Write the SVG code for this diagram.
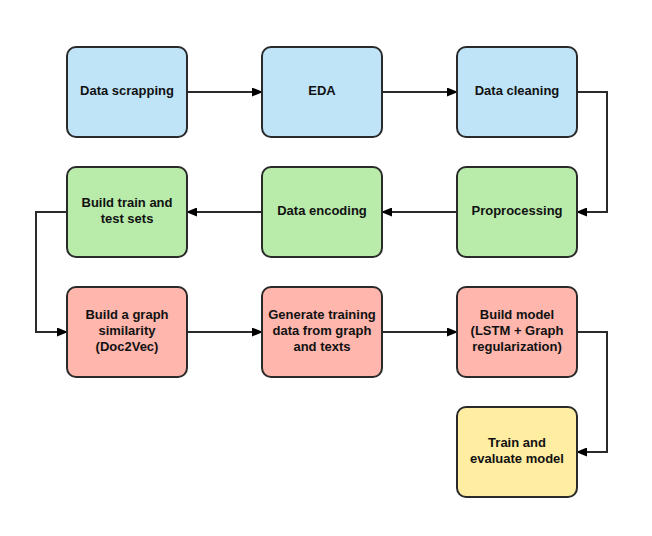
<svg xmlns="http://www.w3.org/2000/svg" width="652" height="536" viewBox="0 0 652 536">
<defs>
<marker id="arr" markerWidth="11" markerHeight="9" refX="10" refY="4.5" orient="auto" markerUnits="userSpaceOnUse">
<path d="M0,0 L11,4.5 L0,9 Z" fill="#000"/>
</marker>
<style>
.n rect{stroke:#2a2a2a;stroke-width:2}
.b rect{fill:#bfe4f8}
.g rect{fill:#b9ebaa}
.r rect{fill:#feb6ad}
.y rect{fill:#ffeda2}
text{font-family:"Liberation Sans",Arial,sans-serif;font-weight:bold;font-size:13px;fill:#111;text-anchor:middle}
.c path{fill:none;stroke:#2a2a2a;stroke-width:2;marker-end:url(#arr)}
</style>
</defs>
<rect width="652" height="536" fill="#fff"/>
<g class="c">
<path d="M187,92 H262"/>
<path d="M382,92 H457"/>
<path d="M577,92 H607 V212 H577"/>
<path d="M457,212 H382"/>
<path d="M262,212 H187"/>
<path d="M67,212 H36 V332 H67"/>
<path d="M187,332 H262"/>
<path d="M382,332 H457"/>
<path d="M577,332 H607 V452 H577"/>
</g>
<g id="n1" class="n b"><rect x="67" y="47" width="120" height="90" rx="9"/><text x="127" y="94.5">Data scrapping</text></g>
<g id="n2" class="n b"><rect x="262" y="47" width="120" height="90" rx="9"/><text x="322" y="94.5">EDA</text></g>
<g id="n3" class="n b"><rect x="457" y="47" width="120" height="90" rx="9"/><text x="517" y="94.5">Data cleaning</text></g>
<g id="n4" class="n g"><rect x="457" y="167" width="120" height="90" rx="9"/><text x="517" y="214.5">Proprocessing</text></g>
<g id="n5" class="n g"><rect x="262" y="167" width="120" height="90" rx="9"/><text x="322" y="214.5">Data encoding</text></g>
<g id="n6" class="n g"><rect x="67" y="167" width="120" height="90" rx="9"/><text x="127" y="206.5">Build train and</text><text x="127" y="222.5">test sets</text></g>
<g id="n7" class="n r"><rect x="67" y="287" width="120" height="90" rx="9"/><text x="127" y="318.5">Build a graph</text><text x="127" y="334.5">similarity</text><text x="127" y="350.5">(Doc2Vec)</text></g>
<g id="n8" class="n r"><rect x="262" y="287" width="120" height="90" rx="9"/><text x="322" y="318.5">Generate training</text><text x="322" y="334.5">data from graph</text><text x="322" y="350.5">and texts</text></g>
<g id="n9" class="n r"><rect x="457" y="287" width="120" height="90" rx="9"/><text x="517" y="318.5">Build model</text><text x="517" y="334.5">(LSTM + Graph</text><text x="517" y="350.5">regularization)</text></g>
<g id="n10" class="n y"><rect x="457" y="407" width="120" height="90" rx="9"/><text x="517" y="446.5">Train and</text><text x="517" y="462.5">evaluate model</text></g>
</svg>
